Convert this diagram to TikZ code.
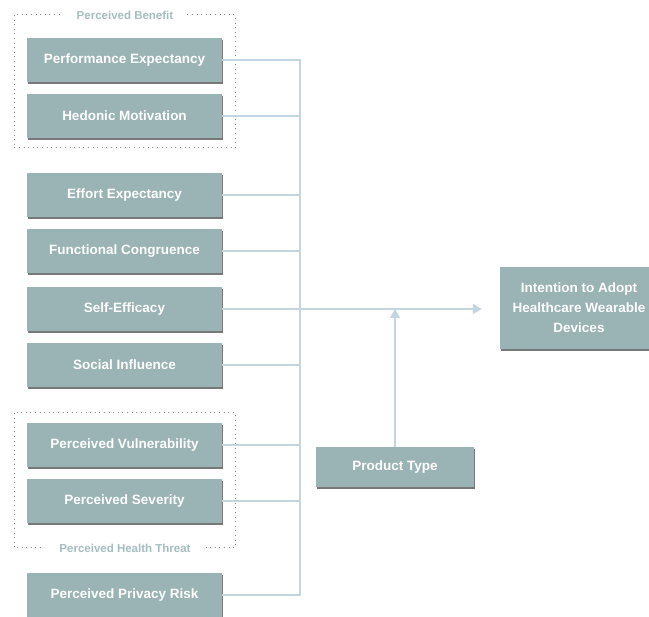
\documentclass[tikz,border=0pt]{standalone}
\usepackage{fontspec}
\setmainfont{Liberation Sans}
\usetikzlibrary{arrows.meta,shadows}
\definecolor{boxc}{HTML}{9AB3B5}
\definecolor{linec}{HTML}{C4D5E2}
\definecolor{labelc}{HTML}{A6BEC0}
\definecolor{dotc}{HTML}{8A8A8A}
\tikzset{
  fbox/.style={fill=boxc, draw=none, text=white, font=\fontsize{13.5}{20}\selectfont\bfseries,
    minimum width=195pt, minimum height=44pt, inner sep=0pt, align=center,
    drop shadow={shadow xshift=1.2pt, shadow yshift=-2.2pt, fill=black!75, opacity=0.7}},
  conn/.style={draw=linec, line width=1.4pt},
  arr/.style={conn, -{Triangle[length=9pt,width=10pt]}},
  grp/.style={draw=dotc, line width=1pt, dash pattern=on 1pt off 3.6pt},
  grplabel/.style={fill=white, text=labelc, font=\fontsize{11.5}{14}\selectfont\bfseries, inner xsep=14pt, inner ysep=2pt}
}
\begin{document}
\begin{tikzpicture}[x=1pt,y=-1pt]
\useasboundingbox (0,0) rectangle (649,617);
\fill[white] (0,0) rectangle (649,617);
% groups
\draw[grp] (14,15) rectangle (235,148);
\node[grplabel] (gb) at (125,15) {Perceived Benefit};
\draw[grp] (14,413) rectangle (235,548);
\node[grplabel] (gh) at (125,548) {Perceived Health Threat};
% boxes
\node[fbox] (pe) at (124.5,60) {Performance Expectancy};
\node[fbox] (hm) at (124.5,116) {Hedonic Motivation};
\node[fbox] (ee) at (124.5,195) {Effort Expectancy};
\node[fbox] (fc) at (124.5,251) {Functional Congruence};
\node[fbox] (se) at (124.5,309) {Self-Efficacy};
\node[fbox] (si) at (124.5,365) {Social Influence};
\node[fbox] (pv) at (124.5,445) {Perceived Vulnerability};
\node[fbox] (ps) at (124.5,501) {Perceived Severity};
\node[fbox] (pp) at (124.5,595) {Perceived Privacy Risk};
\node[fbox, minimum width=158pt, minimum height=40pt] (pt) at (395,467) {Product Type};
\node[fbox, minimum width=158pt, minimum height=82pt] (it) at (579,308) {Intention to Adopt\\Healthcare Wearable\\Devices};
\coordinate (bus) at (300,0);
% connectors
\draw[conn] (pe.east) -| (pp.east -| bus) -- (pp.east);
\foreach \n in {hm,ee,fc,si,pv,ps}{\draw[conn] (\n.east) -- (\n.east -| bus);}
\draw[arr] (se.east) -- ([xshift=-18pt]it.west |- se.east);
\draw[arr] (pt.north) -- (pt.north |- se.east);
\end{tikzpicture}
\end{document}
